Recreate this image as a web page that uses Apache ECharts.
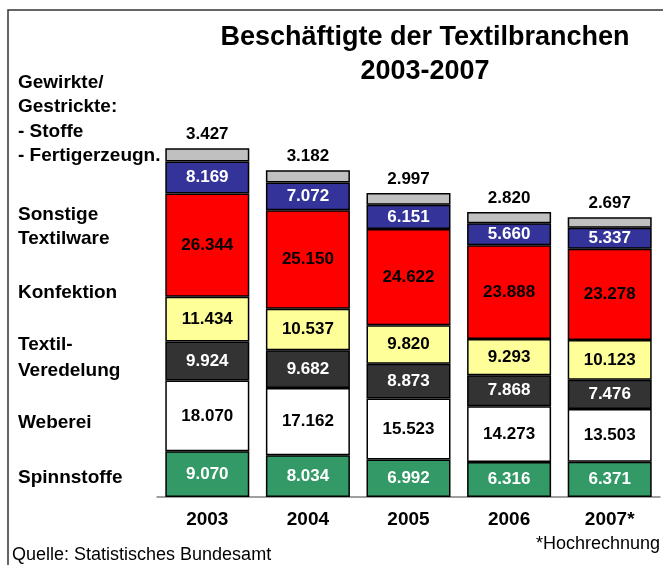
<!DOCTYPE html>
<html>
<head>
<meta charset="utf-8">
<script src="https://cdn.jsdelivr.net/npm/echarts@6/dist/echarts.min.js"></script>
<style>
  html, body { margin: 0; padding: 0; background: #fff; }
  #chart { width: 663px; height: 565px; }
</style>
</head>
<body>
<div id="chart"></div>
<script>
var years = ['2003', '2004', '2005', '2006', '2007*'];
var spinnstoffe = [9070, 8034, 6992, 6316, 6371];
var weberei = [18070, 17162, 15523, 14273, 13503];
var veredelung = [9924, 9682, 8873, 7868, 7476];
var konfektion = [11434, 10537, 9820, 9293, 10123];
var sonstige = [26344, 25150, 24622, 23888, 23278];
var fertigerzeugn = [8169, 7072, 6151, 5660, 5337];
var stoffe = [3427, 3182, 2997, 2820, 2697];

var FONT = "Arial, 'Liberation Sans', sans-serif";

// deutsche Tausenderpunkte: 9070 -> 9.070
function fmt(v) {
    if (v < 1000) return String(v);
    return Math.floor(v / 1000) + '.' + String(v % 1000).padStart(3, '0');
}

function seg(name, data, color, textColor) {
    return {
        name: name,
        type: 'bar',
        stack: 'total',
        barWidth: 84,
        data: data,
        itemStyle: { color: color, borderColor: '#000', borderWidth: 1.5 },
        label: {
            show: true,
            position: 'inside',
            color: textColor,
            fontFamily: FONT,
            fontWeight: 'bold',
            fontSize: 17,
            formatter: function (p) { return fmt(p.value); }
        }
    };
}

var series = [
    seg('Spinnstoffe', spinnstoffe, '#339966', '#fff'),
    seg('Weberei', weberei, '#ffffff', '#000'),
    seg('Textil-Veredelung', veredelung, '#333333', '#fff'),
    seg('Konfektion', konfektion, '#ffff99', '#000'),
    seg('Sonstige Textilware', sonstige, '#ff0000', '#000'),
    seg('Fertigerzeugn.', fertigerzeugn, '#333399', '#fff'),
    seg('Stoffe', stoffe, '#c0c0c0', '#000')
];
series[6].label.position = 'top';
series[6].label.distance = 5;

// linke Beschriftung
var leftLabels = [
    ['Gewirkte/', 83], ['Gestrickte:', 107], ['- Stoffe', 132], ['- Fertigerzeugn.', 156],
    ['Sonstige', 215], ['Textilware', 239], ['Konfektion', 293],
    ['Textil-', 345], ['Veredelung', 371], ['Weberei', 423], ['Spinnstoffe', 478]
];

var graphics = [
    { type: 'rect', shape: { x: 8, y: 10, width: 700, height: 600 },
      style: { fill: 'none', stroke: '#333', lineWidth: 1.5 }, silent: true }
];
leftLabels.forEach(function (l) {
    graphics.push({
        type: 'text', x: 18, y: l[1],
        style: { text: l[0], fill: '#000', font: 'bold 19px ' + FONT, textVerticalAlign: 'middle' }
    });
});
graphics.push({
    type: 'text', x: 425, y: 38,
    style: { text: 'Beschäftigte der Textilbranchen', fill: '#000', font: 'bold 27px ' + FONT,
             textAlign: 'center', textVerticalAlign: 'middle' }
});
graphics.push({
    type: 'text', x: 425, y: 72,
    style: { text: '2003-2007', fill: '#000', font: 'bold 27px ' + FONT,
             textAlign: 'center', textVerticalAlign: 'middle' }
});
graphics.push({
    type: 'text', x: 12, y: 555,
    style: { text: 'Quelle: Statistisches Bundesamt', fill: '#000', font: '18px ' + FONT,
             textVerticalAlign: 'middle' }
});
graphics.push({
    type: 'text', x: 660, y: 544,
    style: { text: '*Hochrechnung', fill: '#000', font: '18px ' + FONT,
             textAlign: 'right', textVerticalAlign: 'middle' }
});

var option = {
    animation: false,
    backgroundColor: '#fff',
    grid: { left: 157, right: 3, top: 95, bottom: 68 },
    xAxis: {
        type: 'category',
        data: years,
        axisLine: { onZero: false, lineStyle: { color: '#808080', width: 1.5 } },
        axisTick: { show: false },
        axisLabel: { color: '#000', fontFamily: FONT, fontWeight: 'bold', fontSize: 19, margin: 13 }
    },
    yAxis: {
        type: 'value',
        min: -2600,
        max: 100000,
        startValue: -2600,
        show: false,
        splitLine: { show: false }
    },
    series: series,
    graphic: graphics
};

echarts.init(document.getElementById('chart')).setOption(option);
</script>
</body>
</html>
